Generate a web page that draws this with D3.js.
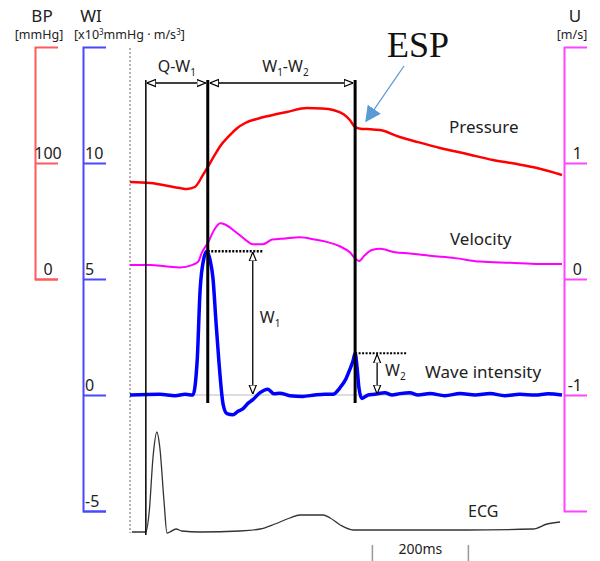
<!DOCTYPE html>
<html>
<head>
<meta charset="utf-8">
<script src="https://cdn.jsdelivr.net/npm/d3@7"></script>
<style>
  body { margin: 0; background: #fff; }
  svg { display: block; font-family: "Noto Sans", "Open Sans", sans-serif; }
</style>
</head>
<body>
<svg id="wia"></svg>
<script>
// Time stamps (ms) and values
const pressureT = [0, 42, 104, 119, 135, 152, 162, 181, 187, 208, 223, 240, 271, 306, 327, 369, 400, 423, 445, 458, 469, 480, 494, 521, 562, 600, 646, 700, 756, 800, 848, 900];
const pressureBP = [83.6, 82.8, 78.4, 77.6, 79.3, 89.7, 96.6, 110, 114, 124, 130, 134.5, 138.8, 142.2, 144, 147.4, 147, 145.7, 142, 137.1, 131, 129.6, 129.3, 128.4, 122.4, 118, 113, 108, 102.6, 99.5, 95.7, 89.7];

const velocityT = [0, 42, 73, 104, 129, 142, 150, 162, 175, 188, 198, 219, 240, 256, 277, 296, 323, 354, 385, 410, 438, 458, 471, 477, 488, 504, 521, 552, 583, 625, 677, 729, 792, 854, 900];
const velocityU = [0.12, 0.12, 0.11, 0.10, 0.12, 0.15, 0.23, 0.31, 0.42, 0.48, 0.47, 0.41, 0.34, 0.30, 0.30, 0.34, 0.35, 0.36, 0.34, 0.32, 0.28, 0.23, 0.17, 0.155, 0.20, 0.25, 0.26, 0.23, 0.22, 0.20, 0.18, 0.15, 0.14, 0.13, 0.13];

const waveT = [0, 62, 94, 115, 131, 140, 146, 154, 160, 167, 173, 179, 185, 194, 202, 215, 225, 235, 246, 256, 271, 287, 300, 312, 333, 360, 385, 406, 423, 437, 450, 458, 465, 469, 473, 477, 483, 496, 510, 531, 546, 562, 583, 600, 625, 656, 688, 719, 750, 781, 812, 844, 871, 900];
const waveWI = [0, 0.03, -0.03, 0.03, 0, 1.5, 4.5, 5.9, 6.2, 5.8, 5.0, 3.2, 1.5, -0.4, -0.8, -0.85, -0.7, -0.6, -0.35, -0.2, 0.1, 0.25, 0.05, 0.08, -0.03, -0.06, 0, 0.03, 0.03, 0.3, 0.7, 1.1, 1.5, 1.8, 1.2, 0.3, -0.15, 0, 0.03, 0.1, 0, 0.06, 0.1, 0, 0.06, -0.03, 0.06, 0, 0.06, -0.03, 0.03, 0, 0.05, 0];

const ecgT = [4, 33, 40, 48, 56, 62, 71, 77, 83, 96, 108, 146, 229, 271, 302, 333, 354, 402, 417, 438, 465, 562, 700, 840, 869, 896];
const ecgV = [0, 0, 0.2, 0.75, 1.0, 0.85, 0.3, -0.01, 0, 0.03, 0.01, 0, 0.01, 0.03, 0.08, 0.14, 0.17, 0.17, 0.14, 0.07, 0.02, 0.02, 0.02, 0.03, 0.08, 0.1];

// Event times (ms)
const tQ = 33, tW1 = 162, tW2 = 469;
const peakW1 = 6.2, peakW2 = 1.8;
const scaleBar = [505, 705];

// Axis ticks
const bpTicks = [0, 100];
const wiTicks = [-5, 0, 5, 10];
const uTicks = [-1, 0, 1];

const x = d3.scaleLinear().domain([0, 900]).range([130, 562]);
const yBP = d3.scaleLinear().domain([0, 200]).range([279, 47]);
const yWI = d3.scaleLinear().domain([-5, 15]).range([511, 47]);
const yU = d3.scaleLinear().domain([-2, 2]).range([511, 47]);
const yECG = d3.scaleLinear().domain([0, 1]).range([532, 432]);

const svg = d3.select("#wia").attr("width", 600).attr("height", 561);

const defs = svg.append("defs");
defs.append("marker").attr("id", "open").attr("viewBox", "0 0 10 10")
    .attr("refX", 10).attr("refY", 5).attr("markerWidth", 9).attr("markerHeight", 9)
    .attr("markerUnits", "userSpaceOnUse").attr("orient", "auto-start-reverse")
    .append("path").attr("d", "M0,1 L10,5 L0,9 Z")
    .attr("fill", "#fff").attr("stroke", "#000").attr("stroke-width", 1.3);
defs.append("marker").attr("id", "blue").attr("viewBox", "0 0 10 10")
    .attr("refX", 9).attr("refY", 5).attr("markerWidth", 16).attr("markerHeight", 16)
    .attr("markerUnits", "userSpaceOnUse").attr("orient", "auto")
    .append("path").attr("d", "M0,0 L10,5 L0,10 Z").attr("fill", "#5b9bd5");

// Axes
function drawAxis(scale, xpos, ticks, color, labelX, anchor) {
  const g = svg.append("g").attr("transform", "translate(" + xpos + ",0)")
      .call(d3.axisRight(scale).tickValues(ticks).tickSize(23).tickSizeOuter(23)
        .tickFormat(d => String(d)));
  g.selectAll("path, line").attr("stroke", color).attr("stroke-width", 2);
  g.selectAll("text").attr("x", labelX).attr("y", -5).attr("dy", 0)
      .attr("text-anchor", anchor).attr("fill", "#222").attr("font-size", 16)
      .attr("font-family", "'Noto Sans', sans-serif");
  return g;
}
drawAxis(yBP, 35, bpTicks, "#ff5a5a", 13, "middle");
drawAxis(yWI, 83, wiTicks, "#4848ff", 2, "start");
drawAxis(yU, 564, uTicks, "#ff44ff", 18, "end");

// Axis headers
const head = svg.append("g").attr("fill", "#222");
head.append("text").attr("x", 42).attr("y", 22).attr("text-anchor", "middle").attr("font-size", 17).text("BP");
head.append("text").attr("x", 39).attr("y", 39).attr("text-anchor", "middle").attr("font-size", 12.5).text("[mmHg]");
head.append("text").attr("x", 91).attr("y", 22).attr("text-anchor", "middle").attr("font-size", 17).text("WI");
const wiUnit = head.append("text").attr("x", 74).attr("y", 39).attr("font-size", 12.5);
wiUnit.append("tspan").text("[x10");
wiUnit.append("tspan").attr("font-size", 8).attr("dy", -4).text("3");
wiUnit.append("tspan").attr("dy", 4).text("mmHg · m/s");
wiUnit.append("tspan").attr("font-size", 8).attr("dy", -4).text("3");
wiUnit.append("tspan").attr("dy", 4).text("]");
head.append("text").attr("x", 575).attr("y", 22).attr("text-anchor", "middle").attr("font-size", 17).text("U");
head.append("text").attr("x", 572).attr("y", 39).attr("text-anchor", "middle").attr("font-size", 12.5).text("[m/s]");

// Dotted start line and zero line of wave intensity
svg.append("line").attr("x1", x(0)).attr("x2", x(0)).attr("y1", 48).attr("y2", 533)
    .attr("stroke", "#999").attr("stroke-width", 1.5).attr("stroke-dasharray", "2,2");
svg.append("line").attr("x1", x(0)).attr("x2", x(900)).attr("y1", yWI(0)).attr("y2", yWI(0))
    .attr("stroke", "#bbb").attr("stroke-width", 1);

// Signals
function trace(ts, vs, yScale, color, w) {
  const pts = ts.map((t, i) => [t, vs[i]]);
  svg.append("path").datum(pts)
      .attr("fill", "none").attr("stroke", color).attr("stroke-width", w)
      .attr("stroke-linejoin", "round")
      .attr("d", d3.line().x(d => x(d[0])).y(d => yScale(d[1])).curve(d3.curveMonotoneX));
}
trace(ecgT, ecgV, yECG, "#333", 1.3);
trace(pressureT, pressureBP, yBP, "#ff0000", 2.5);
trace(velocityT, velocityU, yU, "#ff00ff", 2);
trace(waveT, waveWI, yWI, "#0000ff", 3.5);

// Event lines
svg.append("line").attr("x1", x(tQ)).attr("x2", x(tQ)).attr("y1", 80).attr("y2", 535)
    .attr("stroke", "#000").attr("stroke-width", 1.5);
[tW1, tW2].forEach(t => {
  svg.append("line").attr("x1", x(t)).attr("x2", x(t)).attr("y1", 80).attr("y2", 403)
      .attr("stroke", "#000").attr("stroke-width", 3);
});

// Interval arrows
function dimArrow(x1, y1, x2, y2) {
  svg.append("line").attr("x1", x1).attr("y1", y1).attr("x2", x2).attr("y2", y2)
      .attr("stroke", "#000").attr("stroke-width", 1.3)
      .attr("marker-start", "url(#open)").attr("marker-end", "url(#open)");
}
function subLabel(xp, yp, main, sub, anchor) {
  const t = svg.append("text").attr("x", xp).attr("y", yp).attr("font-size", 16)
      .attr("fill", "#222").attr("text-anchor", anchor || "start");
  main.forEach((m, i) => {
    t.append("tspan").attr("dy", i === 0 ? 0 : -4).text(m);
    t.append("tspan").attr("font-size", 10).attr("dy", 4).text(sub[i]);
  });
}
dimArrow(x(tQ) + 1, 83, x(tW1) - 2, 83);
dimArrow(x(tW1) + 2, 83, x(tW2) - 2, 83);
subLabel((x(tQ) + x(tW1)) / 2, 72, ["Q-W"], ["1"], "middle");
subLabel((x(tW1) + x(tW2)) / 2 + 4, 72, ["W", "-W"], ["1", "2"], "middle");

// Peak markers
svg.append("line").attr("x1", x(tW1)).attr("x2", x(tW1) + 56).attr("y1", yWI(peakW1)).attr("y2", yWI(peakW1))
    .attr("stroke", "#000").attr("stroke-width", 2.5).attr("stroke-dasharray", "2,1.5");
svg.append("line").attr("x1", x(tW2)).attr("x2", x(tW2) + 52).attr("y1", yWI(peakW2)).attr("y2", yWI(peakW2))
    .attr("stroke", "#000").attr("stroke-width", 1.8).attr("stroke-dasharray", "2,1.5");
dimArrow(x(tW1) + 45, yWI(peakW1) + 1, x(tW1) + 45, yWI(0) - 1);
dimArrow(x(tW2) + 22, yWI(peakW2) + 1, x(tW2) + 22, yWI(0) - 1);
subLabel(x(tW1) + 52, 323, ["W"], ["1"]);
subLabel(x(tW2) + 30, 376, ["W"], ["2"]);

// Series labels
const lab = svg.append("g").attr("fill", "#222").attr("font-size", 17);
lab.append("text").attr("x", 449).attr("y", 133).text("Pressure");
lab.append("text").attr("x", 450).attr("y", 245).text("Velocity");
lab.append("text").attr("x", 425).attr("y", 378).text("Wave intensity");
lab.append("text").attr("x", 468).attr("y", 517).attr("font-size", 16).text("ECG");

// 200 ms scale bar
scaleBar.forEach(t => {
  svg.append("line").attr("x1", x(t)).attr("x2", x(t)).attr("y1", 545).attr("y2", 561)
      .attr("stroke", "#999").attr("stroke-width", 1.5);
});
svg.append("text").attr("x", (x(scaleBar[0]) + x(scaleBar[1])) / 2).attr("y", 554)
    .attr("text-anchor", "middle").attr("font-size", 14).attr("fill", "#222").text("200ms");

// ESP annotation
svg.append("text").attr("x", 387).attr("y", 57).attr("font-family", "'Liberation Serif', serif")
    .attr("font-size", 36).attr("fill", "#111").text("ESP");
svg.append("line").attr("x1", 404).attr("y1", 66).attr("x2", x(tW2) + 11).attr("y2", yBP(131) - 6)
    .attr("stroke", "#5b9bd5").attr("stroke-width", 1.3).attr("marker-end", "url(#blue)");
</script>
</body>
</html>
